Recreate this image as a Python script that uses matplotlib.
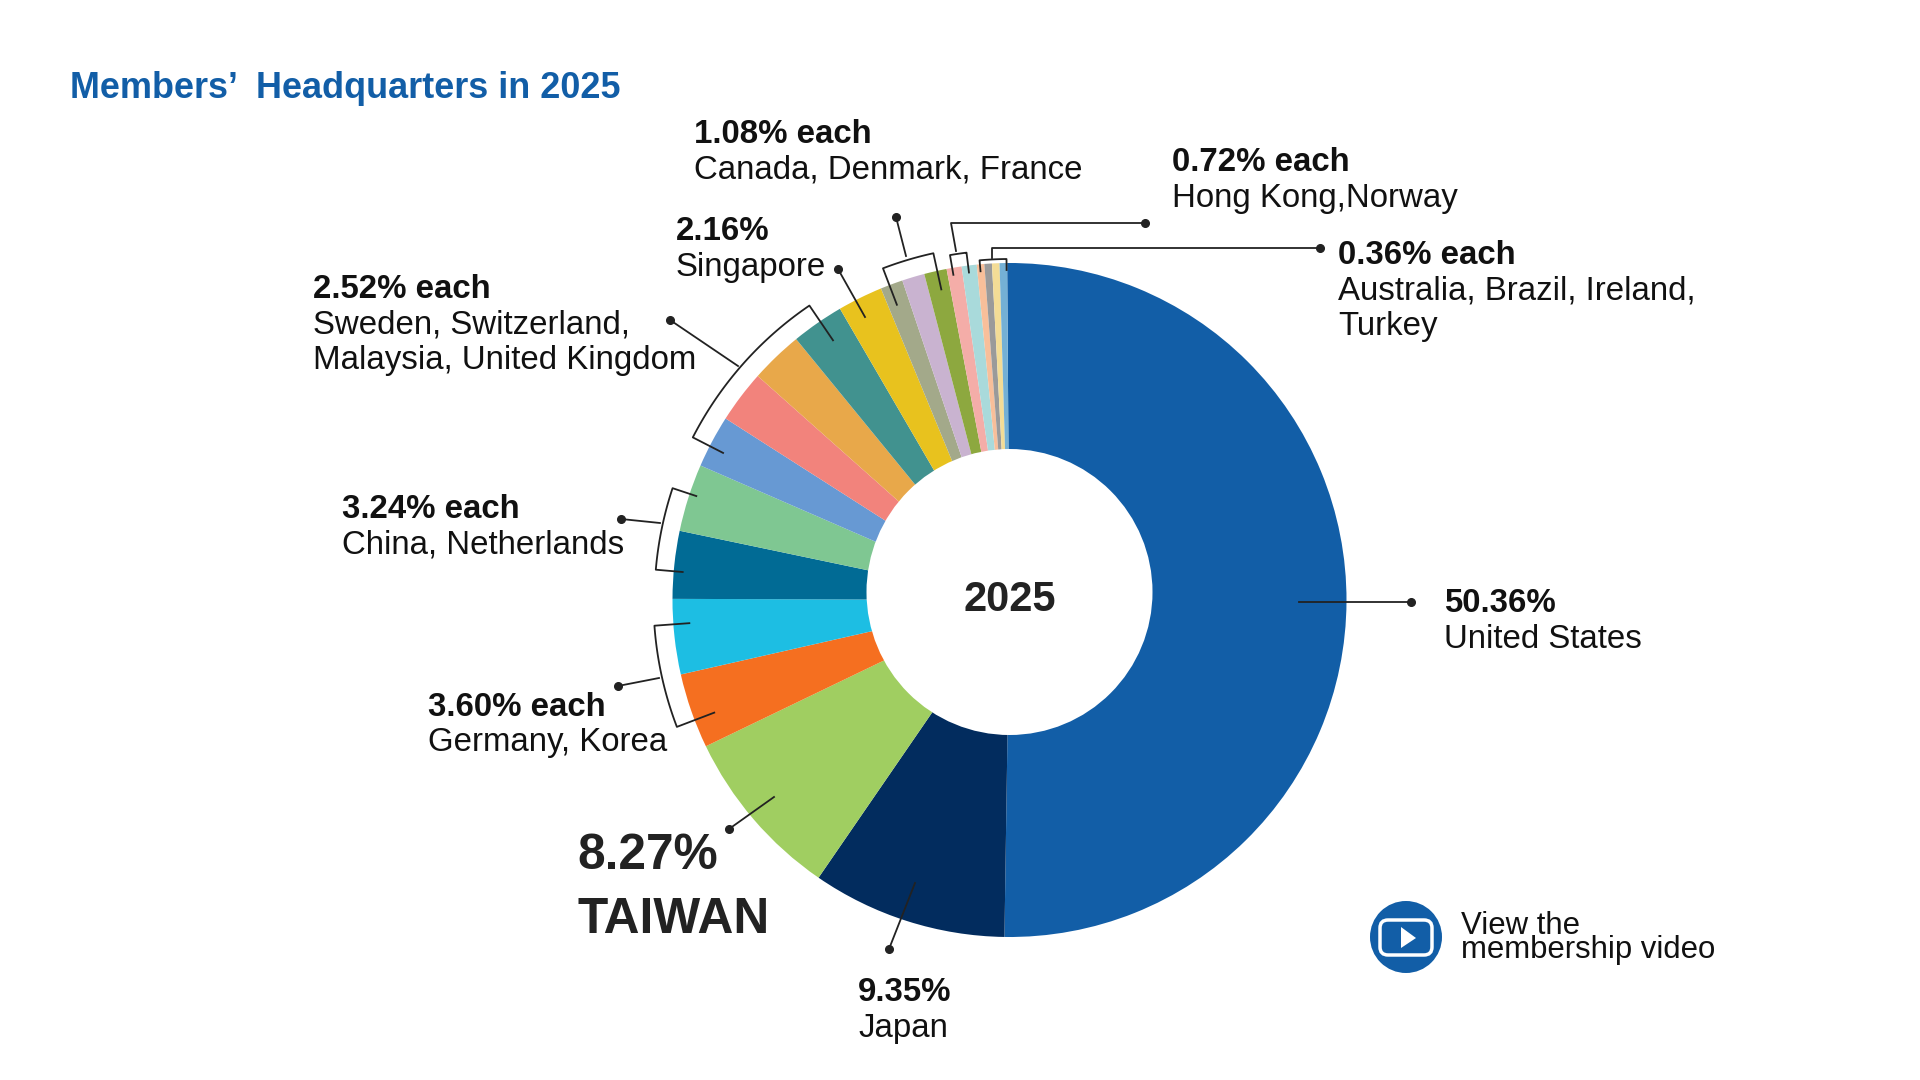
import matplotlib
matplotlib.use("Agg")
import matplotlib.pyplot as plt
from matplotlib.patches import Circle, FancyBboxPatch, Polygon
import numpy as np

plt.rcParams['font.family'] = ['Liberation Sans', 'DejaVu Sans']

countries = ['United States', 'Japan', 'Taiwan', 'Korea', 'Germany', 'China', 'Netherlands',
             'Sweden', 'Switzerland', 'Malaysia', 'United Kingdom', 'Singapore',
             'Canada', 'Denmark', 'France', 'Hong Kong', 'Norway',
             'Australia', 'Brazil', 'Ireland', 'Turkey']
shares = [50.36, 9.35, 8.27, 3.60, 3.60, 3.24, 3.24,
          2.52, 2.52, 2.52, 2.52, 2.16,
          1.08, 1.08, 1.08, 0.72, 0.72,
          0.36, 0.36, 0.36, 0.36]
colors = ['#125EA7', '#022C5E', '#A0CE61', '#F56F20', '#1DBEE3', '#016B95', '#7FC792',
          '#6799D3', '#F2837C', '#E8A84A', '#41928F', '#E8C21E',
          '#A3A98A', '#C9B3D0', '#8DA83F', '#F4ADA8', '#A9DADB',
          '#F8BF9A', '#9A9A9A', '#F3DC96', '#74B0D5']

CX, CY = 1009.5, 600
R_OUT = 337
# the hole sits a little above the point where the slices meet
HOLE_X, HOLE_Y, R_IN = 1009.5, 592, 143
INK = '#222222'
LINE_GAP = 35.5


def py(y):
    return 1080 - y


fig = plt.figure(figsize=(19.2, 10.8), dpi=100)
ax = fig.add_axes([0, 0, 1, 1])
ax.pie(shares, colors=colors, startangle=90.4, counterclock=False,
       center=(CX, py(CY)), radius=R_OUT, wedgeprops=dict(linewidth=0))
ax.add_patch(Circle((HOLE_X, py(HOLE_Y)), R_IN, fc='white', ec='none', zorder=3))
ax.set_xlim(0, 1920)
ax.set_ylim(0, 1080)
ax.set_aspect('equal')
ax.axis('off')


def polar(pct, r):
    a = np.radians(pct * 3.6)
    return CX + r * np.sin(a), py(CY) + r * np.cos(a)


def bracket(p0, p1, r_arc, r_tick0, r_tick1):
    # arc over a group of slices, with a tick into the first and last slice
    p = np.linspace(p0, p1, 40)
    xs, ys = polar(p, r_arc)
    x0, y0 = polar(p0, r_tick0)
    x1, y1 = polar(p1, r_tick1)
    ax.plot(np.r_[x0, xs, x1], np.r_[y0, ys, y1], color=INK, lw=1.3, zorder=4)


def leader(pts):
    xs = [p[0] for p in pts]
    ys = [py(p[1]) for p in pts]
    ax.plot(xs, ys, color=INK, lw=1.3, zorder=4)
    ax.plot(xs[-1], ys[-1], 'o', color=INK, ms=5.5, zorder=5)


bracket(69.2, 73.85, 356, 316, 321)
bracket(76.36, 80.1, 355, 328, 330)
bracket(82.55, 90.5, 356, 322, 314)
bracket(94.2, 96.56, 355, 316, 318)
bracket(97.28, 98.04, 350, 330, 330)
bracket(98.6, 99.86, 341, 330, 330)

leader([(1299, 602), (1411, 602)])
leader([(915, 883), (889, 949)])
leader([(774, 797), (729, 829)])
leader([(659, 678), (618, 686)])
leader([(660, 523), (621, 519)])
leader([(738, 366), (670, 320)])
leader([(865, 317), (838, 269)])
leader([(906, 256), (896, 217)])
leader([(956, 251), (951, 223), (1145, 223)])
leader([(992, 258), (992, 248), (1320, 248)])


def label(x, y, head, lines, size=23.8):
    ax.text(x, py(y), head, fontsize=size, fontweight='bold', color='#111111', va='center')
    for i, line in enumerate(lines):
        ax.text(x, py(y + LINE_GAP * (i + 1)), line, fontsize=size, color='#111111', va='center')


ax.text(70, py(88.5), 'Members\u2019  Headquarters in 2025', fontsize=25.9,
        fontweight='bold', color='#125EA7', va='center')

label(694, 134.5, '1.08% each', ['Canada, Denmark, France'])
label(1172, 162.5, '0.72% each', ['Hong Kong,Norway'])
label(1338, 255.5, '0.36% each', ['Australia, Brazil, Ireland,', 'Turkey'])
label(676, 232, '2.16%', ['Singapore'])
label(313, 289, '2.52% each', ['Sweden, Switzerland,', 'Malaysia, United Kingdom'])
label(342, 509, '3.24% each', ['China, Netherlands'])
label(428, 707, '3.60% each', ['Germany, Korea'])
label(858, 992.5, '9.35%', ['Japan'])
label(1444, 604, '50.36%', ['United States'])

ax.text(577, py(856), '8.27%', fontsize=35.7, fontweight='bold', color=INK, va='center')
ax.text(577, py(920), 'TAIWAN', fontsize=35.7, fontweight='bold', color=INK, va='center')
ax.text(1010, py(600), '2025', fontsize=30, fontweight='bold', color=INK,
        ha='center', va='center')

# video badge
ax.add_patch(Circle((1406, py(937)), 36, color='#125EA7', lw=0, zorder=3))
ax.add_patch(FancyBboxPatch((1380, py(955)), 52, 35, boxstyle='round,pad=0,rounding_size=8',
                            fc='#125EA7', ec='white', lw=2.5, zorder=4))
ax.add_patch(Polygon([(1401, py(927)), (1416, py(938)), (1401, py(948))],
                     closed=True, fc='white', ec='none', zorder=5))
ax.text(1461, py(926), 'View the', fontsize=22.4, color='#111111', va='center')
ax.text(1461, py(950), 'membership video', fontsize=22.4, color='#111111', va='center')

fig.savefig('out.png', dpi=100, facecolor='white')
